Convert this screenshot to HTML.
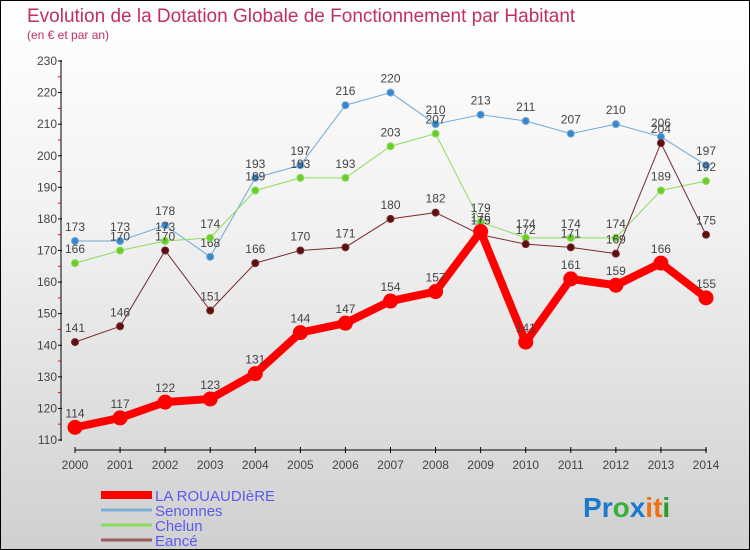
<!DOCTYPE html>
<html><head><meta charset="utf-8"><style>
body{margin:0}
#wrap{position:relative;width:748px;height:548px;border:1px solid #000;background:linear-gradient(#fff,#f2f2f2 40%,#d0d0d0);font-family:"Liberation Sans",sans-serif;overflow:hidden}
svg text{font-family:"Liberation Sans",sans-serif}
</style></head><body>
<div id="wrap">
<svg id="s" width="748" height="548">
<text x="26" y="21" font-size="19" fill="#c0305a">Evolution de la Dotation Globale de Fonctionnement par Habitant</text>
<text x="26" y="38" font-size="12" fill="#c0305a">(en € et par an)</text>
</svg>
</div>
<script>
const years=[2000,2001,2002,2003,2004,2005,2006,2007,2008,2009,2010,2011,2012,2013,2014];
const yTicks=[110,120,130,140,150,160,170,180,190,200,210,220,230];
const laRouaudiere=[114,117,122,123,131,144,147,154,157,176,141,161,159,166,155];
const senonnes=[173,173,178,168,193,197,216,220,210,213,211,207,210,206,197];
const chelun=[166,170,173,174,189,193,193,203,207,179,174,174,174,189,192];
const eance=[141,146,170,151,166,170,171,180,182,175,172,171,169,204,175];
const NS="http://www.w3.org/2000/svg";
const s=document.getElementById('s');
const X=i=>74+i*(705-74)/(years.length-1);
const Y=v=>439-(v-110)*(379/120);
function el(t,a,p){const e=document.createElementNS(NS,t);for(const k in a)e.setAttribute(k,a[k]);(p||s).appendChild(e);return e;}
// axes
let ax=el('line',{x1:60,y1:59,x2:60,y2:440,stroke:'#000'});


yTicks.forEach(v=>{
 el('line',{x1:57,y1:Y(v),x2:61,y2:Y(v),stroke:'#000'});
 if(v<230)el('line',{x1:57,y1:Y(v+5),x2:60,y2:Y(v+5),stroke:'#f00'});
 const t=el('text',{x:56,y:Y(v)+4,'font-size':12,'text-anchor':'end',fill:'#444'});t.textContent=v;
 
 
});
let xa=el('line',{x1:74,y1:449,x2:706,y2:449,stroke:'#000'});


years.forEach((y,i)=>{
 el('line',{x1:X(i),y1:446,x2:X(i),y2:452,stroke:'#000'});
 const t=el('text',{x:X(i),y:468,'font-size':12,'text-anchor':'middle',fill:'#444'});t.textContent=y;
 
 
});
function series(data,col,dot,w,r,name){
 const g=el('g',{});
 
 
 el('polyline',{points:data.map((v,i)=>X(i)+','+Y(v)).join(' '),fill:'none',stroke:col,'stroke-width':w,'stroke-linejoin':'round'},g);
 data.forEach((v,i)=>{
  const c=el('circle',{cx:X(i),cy:Y(v),r:r,fill:dot,stroke:col,'stroke-width':1},g);
  
  
  const t=el('text',{x:X(i),y:Y(v)-10,'font-size':12,'text-anchor':'middle',fill:'#444'},g);t.textContent=v;
  
  
 });
}
series(senonnes,'#6fa8d8','#3a86c8',1,3.5,'senonnes-series');
series(chelun,'#8cdc5c','#6ccc2c',1,3.5,'chelun-series');
series(eance,'#7a2a2a','#5a1010',1,3.5,'eance-series');
series(laRouaudiere,'#f00','#f00',8,7,'la-rouaudiere-series');
// legend
const leg=[['LA ROUAUDIèRE','#f00',8],['Senonnes','#7ab0d8',3],['Chelun','#8cdc5c',3],['Eancé','#9a6060',3]];
leg.forEach((l,i)=>{
 const yy=494+i*15;
 const g=el('g',{});
 
 
 el('line',{x1:100,y1:yy,x2:151,y2:yy,stroke:l[1],'stroke-width':l[2]},g);
 const t=el('text',{x:154,y:yy+6,'font-size':15,fill:'#5a5aee'},g);t.textContent=l[0];
});
const p=el('text',{x:582,y:516,'font-size':28,'font-weight':'bold'});


[['P','#1a7ad0'],['r','#1a7ad0'],['o','#3ab03a'],['x','#1a7ad0'],['i','#f07010'],['t','#f07010'],['i','#2a9a2a']].forEach(c=>{const ts=el('tspan',{fill:c[1]},p);ts.textContent=c[0];});
</script>
</body></html>
